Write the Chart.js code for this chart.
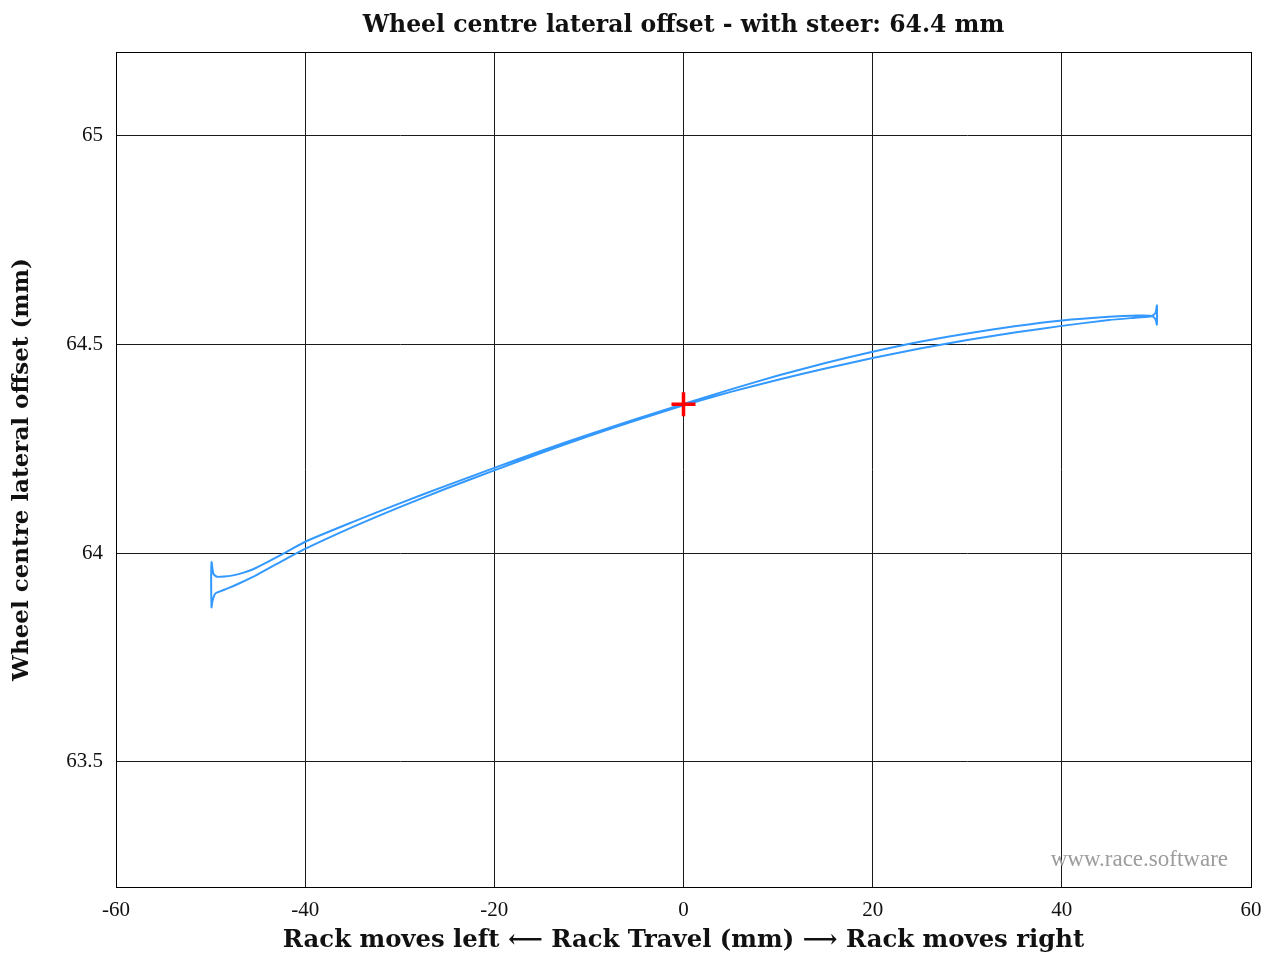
<!DOCTYPE html>
<html>
<head>
<meta charset="utf-8">
<title>Wheel centre lateral offset</title>
<script src="https://cdn.jsdelivr.net/npm/chart.js@4.4.1/dist/chart.umd.min.js"></script>
<style>
  html, body { margin: 0; padding: 0; background: #ffffff; }
  #wrap { width: 1267px; height: 958px; }
</style>
</head>
<body>
<div id="wrap"><canvas id="chart" width="1267" height="958"></canvas></div>
<script>
// Rack travel sweep: 0 -> +50 -> -50 -> 0 (mm), with the end-stop cusps
const rackTravel = [
  0, 5, 10, 15, 20, 25, 30, 35, 40, 45, 48, 49.5,
  49.9, 50.05, 50.05, 49.9, 49.5,
  48, 45, 40, 35, 30, 25, 20, 15, 10, 5, 0,
  -5, -10, -15, -20, -25, -30, -35, -40, -42, -44, -45.5, -46.5, -47.5, -48.5, -49.3,
  -49.7, -49.9, -49.9, -49.8, -49.5,
  -49, -48, -47, -45, -42.5, -40, -35, -30, -25, -20, -15, -10, -5, 0
];
// Wheel centre lateral offset along the sweep (mm)
const lateralOffset = [
  64.354, 64.386, 64.415, 64.442, 64.467, 64.490, 64.510, 64.528, 64.544, 64.558, 64.564, 64.567,
  64.575, 64.593, 64.547, 64.560, 64.568,
  64.569, 64.566, 64.557, 64.543, 64.526, 64.506, 64.482, 64.455, 64.425, 64.392, 64.357,
  64.321, 64.284, 64.245, 64.204, 64.162, 64.119, 64.074, 64.027, 64.002, 63.978, 63.961, 63.953, 63.947, 63.944, 63.943,
  63.950, 63.978, 63.870, 63.885, 63.903,
  63.908, 63.917, 63.927, 63.949, 63.980, 64.010, 64.062, 64.110, 64.155, 64.198, 64.240, 64.280, 64.318, 64.354
];
// Static (zero rack travel) position
const staticTravel = [0];
const staticOffset = [64.356];

const xTickValues = [-60, -40, -20, 0, 20, 40, 60];
const yTickValues = [63.5, 64, 64.5, 65];

const chartTitle = 'Wheel centre lateral offset - with steer: 64.4 mm';
const xAxisTitle = 'Rack moves left \u27F5 Rack Travel (mm) \u27F6 Rack moves right';
const yAxisTitle = 'Wheel centre lateral offset (mm)';
const watermark = 'www.race.software';

const serif = '"Liberation Serif", "DejaVu Serif", serif';
const titleSerif = '"DejaVu Serif", "Liberation Serif", serif';

const toPoints = (xs, ys) => xs.map((x, i) => ({ x: x, y: ys[i] }));

// Full frame round the plot area plus the site mark in its lower right corner
const framePlugin = {
  id: 'frame',
  beforeDatasetsDraw(chart) {
    const { ctx, chartArea: a } = chart;
    ctx.save();
    ctx.strokeStyle = '#000000';
    ctx.lineWidth = 1;
    ctx.strokeRect(a.left + 0.5, a.top + 0.5, a.right - a.left, a.bottom - a.top);
    ctx.fillStyle = '#9c9c9c';
    ctx.font = '23px ' + serif;
    ctx.textAlign = 'right';
    ctx.textBaseline = 'alphabetic';
    ctx.fillText(watermark, a.right - 23, a.bottom - 21);
    ctx.restore();
  }
};

new Chart(document.getElementById('chart'), {
  type: 'scatter',
  data: {
    datasets: [
      {
        label: 'Static',
        data: toPoints(staticTravel, staticOffset),
        showLine: false,
        pointStyle: 'cross',
        pointRadius: 12,
        pointBorderWidth: 3.5,
        borderColor: '#ff0000',
        backgroundColor: '#ff0000'
      },
      {
        label: 'Lateral offset',
        data: toPoints(rackTravel, lateralOffset),
        showLine: true,
        borderColor: '#3399ff',
        borderWidth: 2,
        pointRadius: 0,
        tension: 0.2,
        fill: false
      }
    ]
  },
  options: {
    responsive: false,
    animation: false,
    devicePixelRatio: 1,
    layout: { padding: { left: 0, right: 16, top: 0, bottom: 0 } },
    plugins: {
      legend: { display: false },
      tooltip: { enabled: false },
      title: {
        display: true,
        fullSize: false,
        text: chartTitle,
        color: '#111111',
        font: { family: titleSerif, size: 23.5, weight: 'bold' },
        padding: { top: 12, bottom: 11.8 }
      }
    },
    scales: {
      x: {
        type: 'linear',
        position: 'bottom',
        min: -60,
        max: 60,
        afterBuildTicks: s => { s.ticks = xTickValues.map(v => ({ value: v })); },
        afterFit: s => { s.height = 71; s.paddingLeft = 0; s.paddingRight = 0; },
        grid: { color: '#1a1a1a', lineWidth: 1, drawTicks: false },
        border: { color: '#000000', width: 1 },
        ticks: {
          color: '#111111',
          font: { family: serif, size: 21 },
          padding: 11,
          maxRotation: 0,
          callback: v => String(v)
        },
        title: {
          display: true,
          text: xAxisTitle,
          color: '#111111',
          font: { family: titleSerif, size: 24.3, weight: 'bold' },
          padding: { top: 0, bottom: 3 }
        }
      },
      y: {
        type: 'linear',
        position: 'left',
        min: 63.2,
        max: 65.2,
        afterBuildTicks: s => { s.ticks = yTickValues.map(v => ({ value: v })); },
        afterFit: s => { s.width = 116; s.paddingTop = 0; s.paddingBottom = 0; },
        grid: { color: '#1a1a1a', lineWidth: 1, drawTicks: false },
        border: { color: '#000000', width: 1 },
        ticks: {
          color: '#111111',
          font: { family: serif, size: 21 },
          padding: 13,
          callback: v => String(v)
        },
        title: {
          display: true,
          text: yAxisTitle,
          color: '#111111',
          font: { family: titleSerif, size: 23, weight: 'bold' },
          padding: { top: 8, bottom: 0 }
        }
      }
    }
  },
  plugins: [framePlugin]
});
</script>
</body>
</html>
